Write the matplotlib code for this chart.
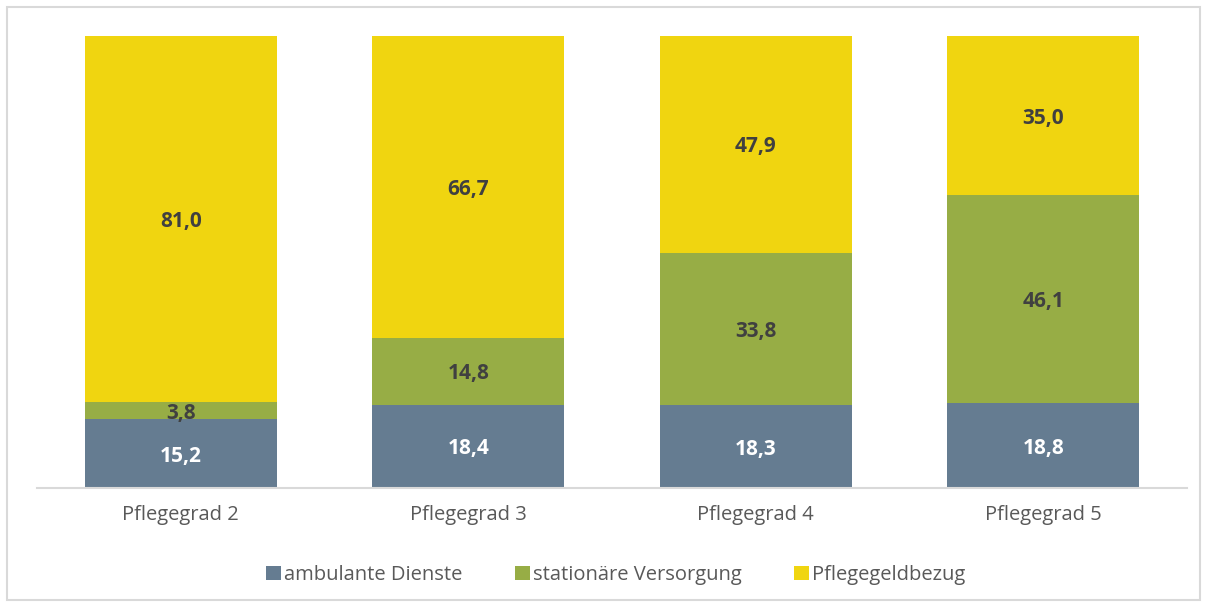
import matplotlib.pyplot as plt
from matplotlib.patches import Rectangle

categories = ['Pflegegrad 2', 'Pflegegrad 3', 'Pflegegrad 4', 'Pflegegrad 5']
ambulant = [15.2, 18.4, 18.3, 18.8]
stationaer = [3.8, 14.8, 33.8, 46.1]
pflegegeld = [81.0, 66.7, 47.9, 35.0]
series_names = ['ambulante Dienste', 'stationäre Versorgung', 'Pflegegeldbezug']

colors = ['#657C91', '#97AD45', '#F0D510']
label_colors = ['white', '#404040', '#404040']

plt.rcParams['font.family'] = ['Open Sans', 'DejaVu Sans']

fig = plt.figure(figsize=(12.12, 6.08), dpi=100)
W, H = 1212, 608
ax = fig.add_axes([37 / W, 1 - 488 / H, (1187 - 37) / W, (488 - 36) / H])

# outer frame
fig.patches.append(Rectangle((7 / W, 1 - 600 / H), (1200 - 7) / W, (600 - 7) / H,
                             transform=fig.transFigure, fill=False,
                             edgecolor='#D9D9D9', linewidth=1.5))

x = list(range(len(categories)))
bottom = [0.0] * len(categories)
for vals, name, c, lc in zip([ambulant, stationaer, pflegegeld], series_names, colors, label_colors):
    ax.bar(x, vals, width=0.667, bottom=bottom, color=c, label=name)
    for xi, v, b in zip(x, vals, bottom):
        ax.text(xi, b + v / 2, f'{v:.1f}'.replace('.', ','), ha='center', va='center_baseline',
                color=lc, fontsize=15, fontweight='bold')
    bottom = [b + v for b, v in zip(bottom, vals)]

ax.set_xlim(-0.5, 3.5)
ax.set_ylim(0, 100)
ax.set_yticks([])
ax.set_xticks(x)
ax.set_xticklabels(categories, fontsize=14.5, color='#595959')
ax.tick_params(axis='x', length=0, pad=12)
for s in ['top', 'right', 'left']:
    ax.spines[s].set_visible(False)
ax.spines['bottom'].set_color('#D9D9D9')
ax.spines['bottom'].set_linewidth(1.5)

fig.legend(loc='center', bbox_to_anchor=(616 / W, 1 - 575 / H), ncol=3, frameon=False,
           fontsize=14.5, labelcolor='#595959', handlelength=0.75, handleheight=0.75,
           handletextpad=0.15, columnspacing=2.6)

fig.savefig('out.png', dpi=100)
